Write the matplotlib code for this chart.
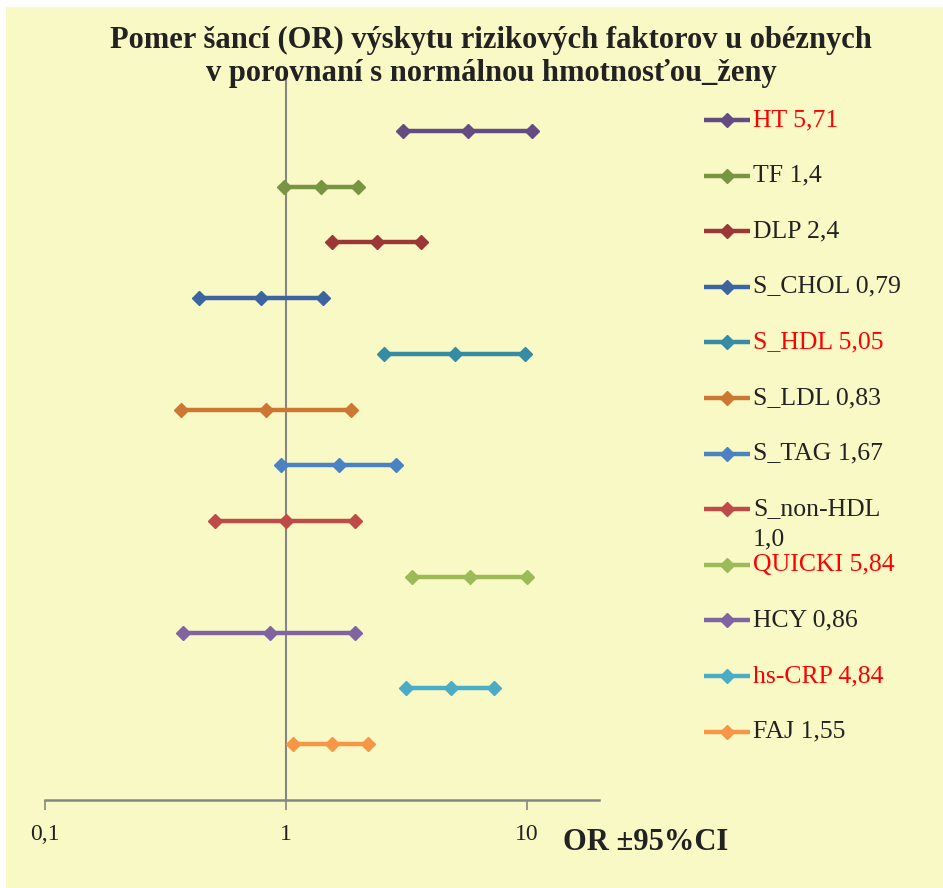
import matplotlib.pyplot as plt
from matplotlib.patches import Rectangle
from matplotlib.ticker import FixedLocator, NullLocator

plt.rcParams['font.family'] = ['Liberation Serif', 'DejaVu Serif']

# data
factors = ["HT", "TF", "DLP", "S_CHOL", "S_HDL", "S_LDL", "S_TAG",
           "S_non-HDL", "QUICKI", "HCY", "hs-CRP", "FAJ"]
odds_ratio = [5.71, 1.40, 2.40, 0.79, 5.05, 0.83, 1.67, 1.00, 5.84, 0.86, 4.84, 1.55]
ci_low = [3.07, 0.98, 1.56, 0.436, 2.57, 0.367, 0.953, 0.507, 3.36, 0.376, 3.16, 1.07]
ci_high = [10.56, 1.99, 3.64, 1.43, 9.87, 1.86, 2.88, 1.93, 10.07, 1.94, 7.34, 2.20]
legend_labels = ["HT 5,71", "TF 1,4", "DLP 2,4", "S_CHOL 0,79", "S_HDL 5,05",
                 "S_LDL 0,83", "S_TAG 1,67", "S_non-HDL\n1,0", "QUICKI 5,84",
                 "HCY 0,86", "hs-CRP 4,84", "FAJ 1,55"]
significant = ["HT", "S_HDL", "QUICKI", "hs-CRP"]
colors = ["#644B82", "#789641", "#9B3737", "#3C64A0", "#378CA5", "#CD7832",
          "#4A82C3", "#BE4B48", "#9BBB59", "#8064A2", "#4BACC6", "#F79646"]
x_ticks = [0.1, 1, 10]
x_tick_labels = ["0,1", "1", "10"]

W, H = 943, 888
bg = "#F9F9C6"
grey = "#868686"

fig = plt.figure(figsize=(W / 100, H / 100), dpi=100, facecolor="white")
fig.patches.append(Rectangle((6 / W, 0), 1, 1 - 7 / H, transform=fig.transFigure,
                             facecolor=bg, edgecolor="none", zorder=-10))

ax = fig.add_axes([45 / W, 88 / H, (599 - 45) / W, (800 - 75) / H])
ax.set_facecolor("none")
ax.set_xscale("log")
ax.set_xlim(0.1, 20)
ax.set_ylim(0, 13)

n = len(factors)
for i in range(n):
    y = n - i
    ax.plot([ci_low[i], odds_ratio[i], ci_high[i]], [y, y, y], color=colors[i],
            lw=3.2, marker="D", ms=7, solid_capstyle="butt", zorder=3)

ax.axvline(1, color=grey, lw=1.5, zorder=2)
for s in ["top", "right", "left"]:
    ax.spines[s].set_visible(False)
ax.spines["bottom"].set_color(grey)
ax.spines["bottom"].set_linewidth(1.8)
ax.xaxis.set_major_locator(FixedLocator(x_ticks))
ax.xaxis.set_minor_locator(NullLocator())
ax.set_xticklabels(x_tick_labels, fontsize=17, color="#222222")
ax.tick_params(axis="x", length=7, width=1.2, color=grey, pad=10)
ax.set_yticks([])

fig.text(491 / W, 1 - 40 / H, "Pomer šancí (OR) výskytu rizikových faktorov u obéznych",
         ha="center", va="center", fontsize=22, fontweight="bold", color="#222222")
fig.text(491 / W, 1 - 74 / H, "v porovnaní s normálnou hmotnosťou_ženy",
         ha="center", va="center", fontsize=22, fontweight="bold", color="#222222")
fig.text(563 / W, 1 - 842 / H, "OR ±95%CI", ha="left", va="center",
         fontsize=22, fontweight="bold", color="#222222")

# legend on the right, one row per series
for i in range(n):
    yy = 1 - (120 + i * 55.6) / H
    fig.lines.append(plt.Line2D([704 / W, 750 / W], [yy, yy], transform=fig.transFigure,
                                color=colors[i], lw=3.2, solid_capstyle="butt"))
    fig.lines.append(plt.Line2D([727 / W], [yy], transform=fig.transFigure,
                                color=colors[i], marker="D", ms=7))
    tcol = "red" if factors[i] in significant else "#222222"
    for k, part in enumerate(legend_labels[i].split("\n")):
        fig.text(753 / W, yy - k * 30 / H, part, ha="left", va="center",
                 fontsize=18.5, color=tcol)

fig.savefig("out.png", dpi=100, facecolor=fig.get_facecolor())
